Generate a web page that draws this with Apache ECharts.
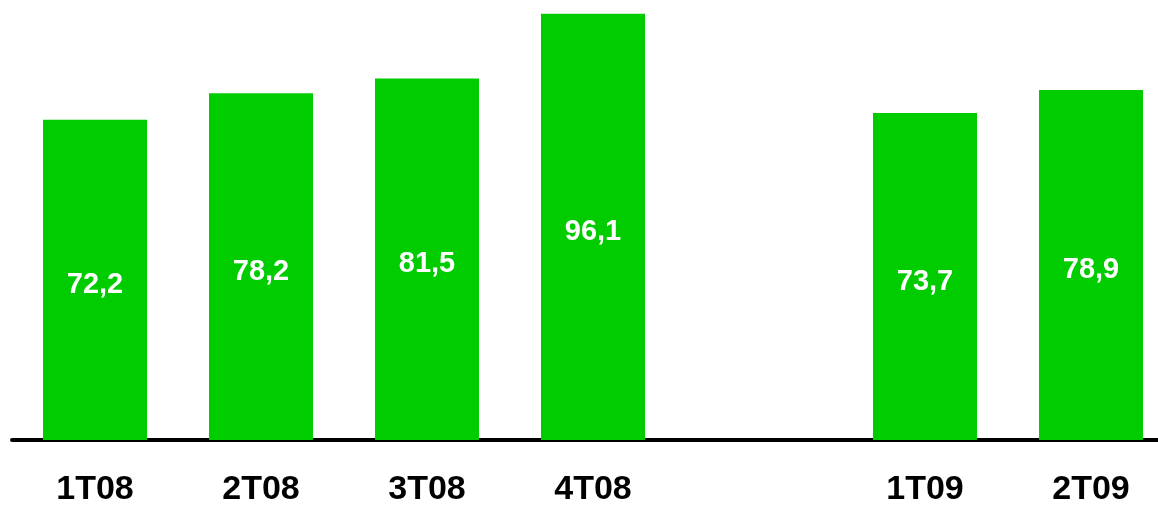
<!DOCTYPE html>
<html>
<head>
<meta charset="utf-8">
<script src="https://cdn.jsdelivr.net/npm/echarts@6/dist/echarts.min.js"></script>
<style>
  html, body { margin: 0; padding: 0; background: #ffffff; overflow: hidden; }
  #frame { position: relative; width: 1158px; height: 507px; overflow: hidden; }
  /* the plot area runs slightly past the right edge, so the axis line reaches the border */
  #chart { position: absolute; left: 0; top: 0; width: 1174px; height: 507px; }
</style>
</head>
<body>
<div id="frame"><div id="chart"></div></div>
<script>
// Quarterly values; the empty slot separates 2008 from 2009
const quarters = ['1T08', '2T08', '3T08', '4T08', '', '1T09', '2T09'];
const values = [72.2, 78.2, 81.5, 96.1, null, 73.7, 78.9];

const chart = echarts.init(document.getElementById('chart'));

const fmt = v => v.toFixed(1).replace('.', ',');

chart.setOption({
  animation: false,
  backgroundColor: '#ffffff',
  grid: { left: 12, right: 0, top: 0, bottom: 61, containLabel: false },
  xAxis: {
    type: 'category',
    data: quarters,
    axisLine: { show: true, lineStyle: { color: '#000000', width: 4 } },
    axisTick: { show: false },
    axisLabel: {
      color: '#000000',
      fontFamily: 'Liberation Sans, Arial, sans-serif',
      fontWeight: 'bold',
      fontSize: 34,
      margin: 33
    }
  },
  yAxis: {
    type: 'value',
    min: 0,
    max: 99.2,
    show: false,
    splitLine: { show: false }
  },
  series: [{
    type: 'bar',
    data: values,
    barWidth: 104,
    itemStyle: { color: '#00cc00' },
    label: {
      show: true,
      position: 'inside',
      color: '#ffffff',
      fontFamily: 'Liberation Sans, Arial, sans-serif',
      fontWeight: 'bold',
      fontSize: 29,
      offset: [0, 5],
      formatter: p => fmt(p.value)
    }
  }]
});
</script>
</body>
</html>
